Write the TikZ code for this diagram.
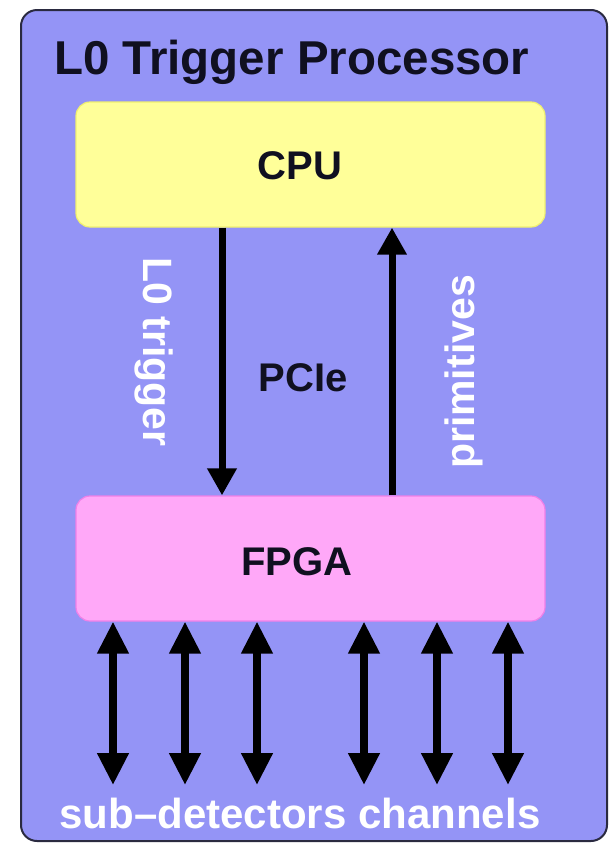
\documentclass[tikz,border=0pt]{standalone}
\usepackage{fontspec}
\setmainfont{Liberation Sans}
\usetikzlibrary{arrows.meta}
\definecolor{bgblue}{HTML}{9494F6}
\definecolor{cpuyellow}{HTML}{FFFF99}
\definecolor{cpuedge}{HTML}{F0F070}
\definecolor{fpgapink}{HTML}{FFA8F8}
\definecolor{fpgaedge}{HTML}{F080E8}
\definecolor{frame}{HTML}{2A2A40}
\definecolor{ink}{HTML}{101020}
\tikzset{
  outerbox/.style={draw=frame, line width=2pt, fill=bgblue, rounded corners=16pt, minimum width=586pt, minimum height=831pt, inner sep=0pt},
  unitbox/.style={rounded corners=14pt, line width=1.2pt, minimum width=469pt, minimum height=125pt, inner sep=0pt},
  boxtext/.style={font=\bfseries\fontsize{40}{48}\selectfont, text=ink, inner sep=0pt},
  whitetext/.style={font=\bfseries\fontsize{41}{49}\selectfont, text=white, inner sep=0pt},
  bus/.style={line width=7pt, draw=black, -{Triangle[width=28pt,length=27pt]}},
  chan/.style={line width=7.5pt, draw=black, {Triangle[width=30pt,length=32pt]}-{Triangle[width=30pt,length=32pt]}}
}
\begin{document}
\begin{tikzpicture}[x=1pt,y=-1pt]
\useasboundingbox (0,0) rectangle (609,844);
\node[outerbox] (outer) at (314,425.5) {};
\node[font=\bfseries\fontsize{47.5}{56}\selectfont, text=ink, inner sep=0pt, anchor=base west] (title) at (54,74) {L0 Trigger Processor};
\node[unitbox, draw=cpuedge, fill=cpuyellow] (cpu) at (310.5,164.5) {};
\node[boxtext] (cputext) at (300,166) {CPU};
\node[unitbox, draw=fpgaedge, fill=fpgapink] (fpga) at (310.5,558.5) {};
\node[boxtext] (fpgatext) at (297,562) {FPGA};
\coordinate (dx) at (222,0);
\coordinate (ux) at (392,0);
\draw[bus] (cpu.south -| dx) -- (fpga.north -| dx);
\draw[bus] (fpga.north -| ux) -- (cpu.south -| ux);
\node[whitetext, rotate=-90] (ltrig) at (154,352) {L0 trigger};
\node[boxtext] (pcie) at (303,378) {PCIe};
\node[whitetext, rotate=90] (prim) at (464,372) {primitives};
\foreach \i/\x in {1/113,2/185,3/257,4/364,5/437,6/508}{
  \coordinate (b\i) at (\x,785);
  \draw[chan] (fpga.south -| b\i) -- (b\i);
}
\node[whitetext, font=\bfseries\fontsize{42}{50}\selectfont, anchor=base] (subdet) at (300,828) {sub–detectors channels};
\end{tikzpicture}
\end{document}
